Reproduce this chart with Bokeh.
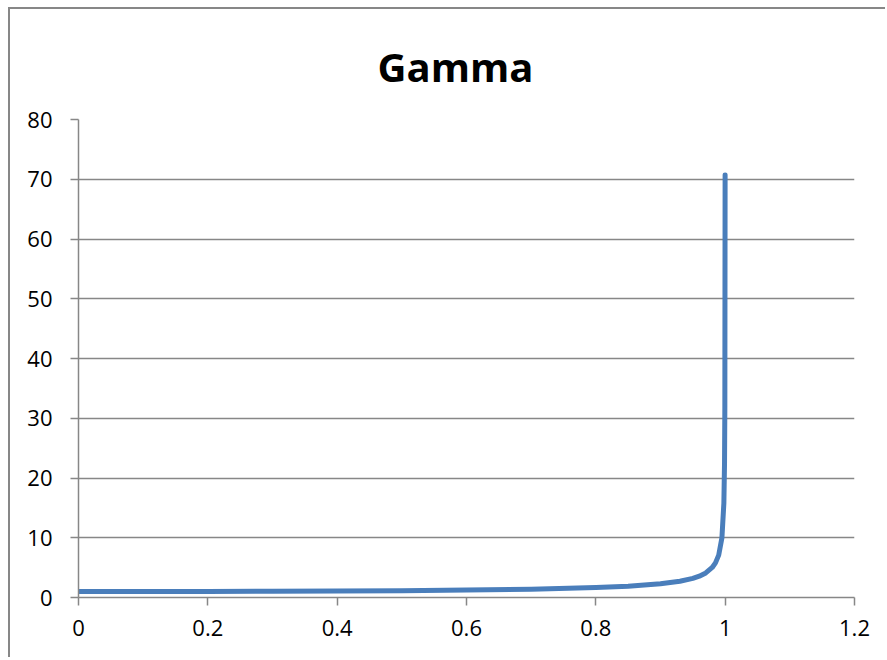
from bokeh.plotting import figure
from bokeh.models import FixedTicker, ColumnDataSource
from bokeh.embed import file_html
from bokeh.resources import INLINE

# Data (speed fraction v, gamma value)
v = [0.0, 0.1, 0.2, 0.3, 0.4, 0.5, 0.6, 0.7, 0.8, 0.85, 0.9, 0.93, 0.95,
     0.96, 0.97, 0.98, 0.985, 0.99, 0.995, 0.998, 0.999, 0.9995, 0.9999]
gamma = [1.0, 1.005, 1.02, 1.05, 1.09, 1.15, 1.25, 1.4, 1.67, 1.9, 2.29, 2.72, 3.2,
         3.57, 4.11, 5.03, 5.8, 7.09, 10.0, 15.8, 22.4, 31.6, 70.7]

x_ticks = [0, 0.2, 0.4, 0.6, 0.8, 1.0, 1.2]
x_tick_labels = ["0", "0.2", "0.4", "0.6", "0.8", "1", "1.2"]
y_ticks = [0, 10, 20, 30, 40, 50, 60, 70, 80]
title_text = "Gamma"

GRAY = "#878787"
FONT = "Open Sans"

p = figure(width=877, height=650, output_backend="svg", toolbar_location=None,
           x_range=(0, 1.2), y_range=(0, 80),
           min_border_left=68, min_border_top=110, min_border_right=33, min_border_bottom=62)
p.styles = {"margin-left": "8px", "margin-top": "7px",
            "border-left": f"2px solid {GRAY}", "border-top": f"2px solid {GRAY}"}
p.outline_line_color = None
p.background_fill_color = "white"
p.border_fill_color = "white"

p.title.text = title_text
p.title.text_font = FONT
p.title.text_font_size = "40px"
p.title.text_font_style = "bold"
p.title.text_color = "black"
p.title.align = "left"
p.title.offset = 299
p.title.standoff = 52
p.title.vertical_align = "bottom"

xa = p.xaxis[0]
ya = p.yaxis[0]

p.xgrid.visible = False
p.ygrid.grid_line_color = GRAY
p.ygrid.grid_line_width = 1.5
p.ygrid.ticker = FixedTicker(ticks=y_ticks)

for ax in (xa, ya):
    ax.axis_line_color = GRAY
    ax.axis_line_width = 1.5
    ax.major_tick_line_color = GRAY
    ax.major_tick_line_width = 1.5
    ax.major_tick_out = 8
    ax.major_tick_in = 0
    ax.minor_tick_line_color = None
    ax.major_label_text_font = FONT
    ax.major_label_text_font_size = "22px"
    ax.major_label_text_color = "black"

xa.ticker = FixedTicker(ticks=x_ticks)
xa.major_label_overrides = {t: l for t, l in zip(x_ticks, x_tick_labels)}
xa.major_label_standoff = 14
ya.ticker = FixedTicker(ticks=y_ticks)
ya.major_label_standoff = 18

src = ColumnDataSource(dict(v=v, gamma=gamma))
p.line("v", "gamma", source=src, line_color="#4a7ebb", line_width=5,
       line_cap="round", line_join="round")

open("out.html", "w").write(file_html(p, INLINE))
